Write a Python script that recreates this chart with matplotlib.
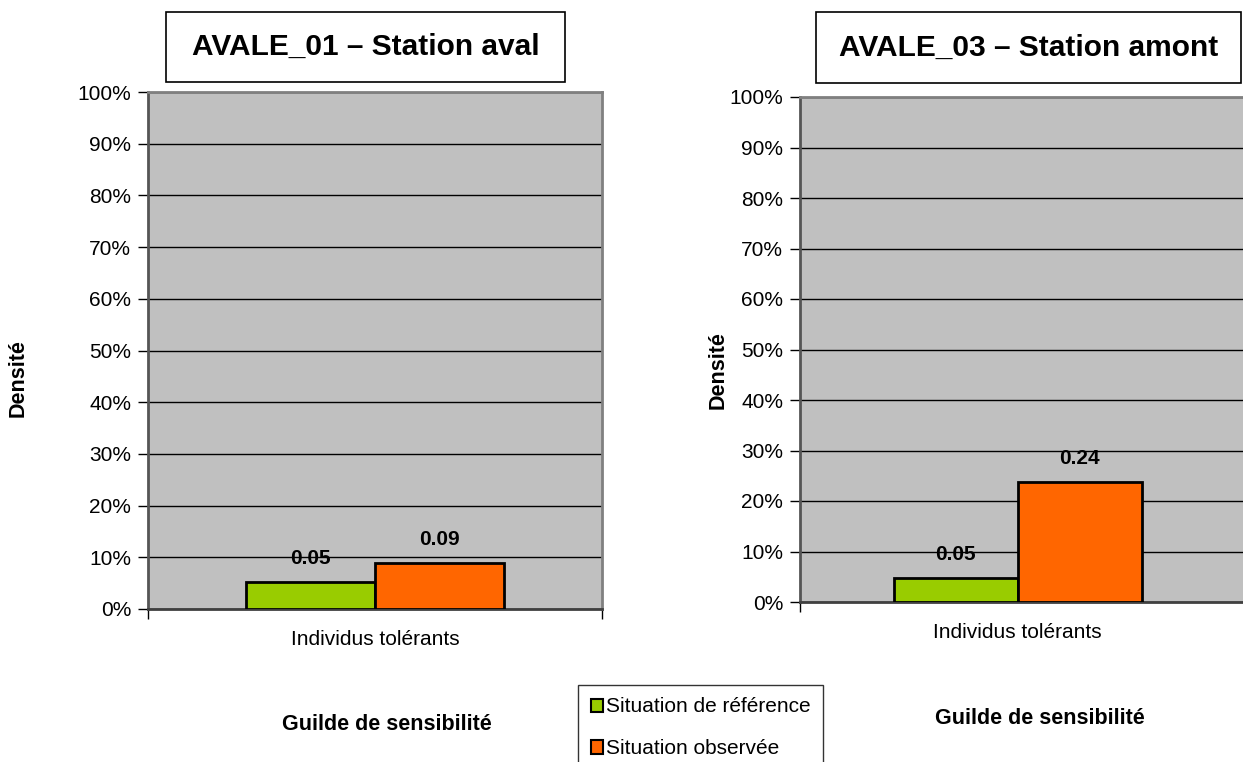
import matplotlib
matplotlib.use("Agg")
import matplotlib.pyplot as plt
from matplotlib.patches import Rectangle
from matplotlib.ticker import FuncFormatter, FixedLocator

plt.rcParams['font.family'] = ['Liberation Sans', 'DejaVu Sans']

# Data
categories = ["Individus tolérants"]
series_names = ["Situation de référence", "Situation observée"]
series_colors = ["#99CC00", "#FF6600"]
aval_01 = [0.052, 0.089]      # AVALE_01 – Station aval
amont_03 = [0.048, 0.238]     # AVALE_03 – Station amont
labels_aval_01 = ["0.05", "0.09"]
labels_amont_03 = ["0.05", "0.24"]
titles = ["AVALE_01 – Station aval", "AVALE_03 – Station amont"]
y_ticks = [i / 10 for i in range(11)]

W, H = 1243, 762
fig = plt.figure(figsize=(W / 100, H / 100), dpi=100)


def fx(px):
    return px / W


def fy(py):
    return 1 - py / H


def panel(rect, values, labels, xmax, bar_w, edges):
    ax = fig.add_axes(rect)
    ax.set_facecolor("#C0C0C0")
    offsets = [-bar_w / 2, bar_w / 2]
    containers = []
    for v, lab, off, col, name in zip(values, labels, offsets, series_colors, series_names):
        bc = ax.bar([off], [v], width=bar_w, color=col, edgecolor="black",
                    linewidth=2, label=name, zorder=3)
        containers.append(bc)
        ax.annotate(lab, (off, v), xytext=(0, 17), textcoords="offset points",
                    ha="center", va="center", fontsize=15, fontweight="bold", zorder=4)
    ax.set_ylim(0, 1)
    ax.set_xlim(-0.5, xmax)
    ax.yaxis.set_major_locator(FixedLocator(y_ticks))
    ax.yaxis.set_major_formatter(FuncFormatter(lambda v, p: f"{v:.0%}"))
    ax.grid(axis="y", color="black", linewidth=1, zorder=1)
    ax.set_axisbelow(True)
    ax.set_xticks([0])
    ax.set_xticklabels(categories)
    ax.set_xticks(edges, minor=True)
    ax.tick_params(axis="x", which="major", length=0, pad=15, labelsize=15)
    ax.tick_params(axis="x", which="minor", length=7, width=1, color="black")
    ax.tick_params(axis="y", length=7, width=1, pad=5, labelsize=15)
    for side in ["top", "right"]:
        ax.spines[side].set_color("#808080")
        ax.spines[side].set_linewidth(2)
    ax.spines["left"].set_color("#555555")
    ax.spines["left"].set_linewidth(2)
    ax.spines["bottom"].set_color("#404040")
    ax.spines["bottom"].set_linewidth(2)
    return ax, containers


# Left panel
axL, bars = panel([fx(148), fy(609), fx(602) - fx(148), fy(92) - fy(609)],
                  aval_01, labels_aval_01, 0.5, 0.285, [-0.5, 0.5])
# Right panel (plot area runs past the right edge)
axR, _ = panel([fx(800), fy(602), fx(1270) - fx(800), fy(97) - fy(602)],
               amont_03, labels_amont_03, 0.58, 0.285, [-0.5])

# Title boxes
for (x0, y0, x1, y1), t in zip([(166, 12, 565, 82), (816, 12, 1241, 83)], titles):
    fig.patches.append(Rectangle((fx(x0), fy(y1)), fx(x1) - fx(x0), fy(y0) - fy(y1),
                                 transform=fig.transFigure, facecolor="white",
                                 edgecolor="black", linewidth=1.2))
    fig.text(fx((x0 + x1) / 2), fy((y0 + y1) / 2), t, ha="center", va="center",
             fontsize=21.5, fontweight="bold")

# Axis titles
fig.text(fx(18), fy(378), "Densité", rotation=90, ha="center", va="center",
         fontsize=15.5, fontweight="bold")
fig.text(fx(718), fy(370), "Densité", rotation=90, ha="center", va="center",
         fontsize=15.5, fontweight="bold")
fig.text(fx(387), fy(724), "Guilde de sensibilité", ha="center", va="center",
         fontsize=15.5, fontweight="bold")
fig.text(fx(1040), fy(718), "Guilde de sensibilité", ha="center", va="center",
         fontsize=15.5, fontweight="bold")

# Legend
leg = fig.legend(handles=[b[0] for b in bars], labels=series_names,
                 loc="upper left", bbox_to_anchor=(fx(578), fy(685)),
                 fontsize=15, frameon=True, fancybox=False, borderpad=0.6,
                 labelspacing=1.1, handlelength=0.6, handleheight=0.6,
                 handletextpad=0.15, borderaxespad=0)
leg.get_frame().set_edgecolor("black")
leg.get_frame().set_linewidth(1)
for h in leg.legend_handles:
    h.set_linewidth(1.5)

fig.savefig("out.png", dpi=100)
